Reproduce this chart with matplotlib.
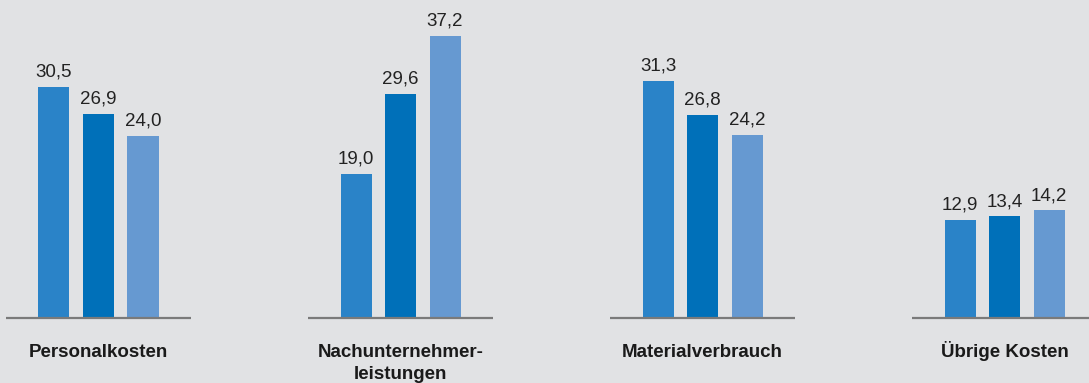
import matplotlib
matplotlib.use("Agg")
import matplotlib.pyplot as plt
import numpy as np

categories = ["Personalkosten", "Nachunternehmer-\nleistungen", "Materialverbrauch", "Übrige Kosten"]
series_a = [30.5, 19.0, 31.3, 12.9]
series_b = [26.9, 29.6, 26.8, 13.4]
series_c = [24.0, 37.2, 24.2, 14.2]
colors = ["#2a83c8", "#0070b9", "#6699d1"]
bg = "#e1e2e4"

fig = plt.figure(figsize=(10.89, 3.83), dpi=100, facecolor=bg)
ax = fig.add_axes([0, 0, 1, 1], facecolor=bg)

group_px = 302.0
x0_px = 98.5
bar_w = 31 / group_px
step = 44.5 / group_px
half_base = 92.5 / group_px
px_per_unit = 7.575
base_px = 65

x = np.arange(len(categories))
for k, (vals, col) in enumerate(zip([series_a, series_b, series_c], colors)):
    xs = x + (k - 1) * step
    ax.bar(xs, vals, width=bar_w, color=col, zorder=2)
    for xi, v in zip(xs, vals):
        ax.annotate(f"{v:.1f}".replace(".", ","), (xi, v), xytext=(0, 7.5),
                    textcoords="offset points", ha="center", va="baseline",
                    fontsize=13.5, color="#222222", family="Liberation Sans")

for xi in x:
    ax.plot([xi - half_base, xi + half_base], [0, 0], color="#7a7a7a", lw=1.6, zorder=3,
            solid_capstyle="butt")

for xi, lab in zip(x, categories):
    for j, line in enumerate(lab.split("\n")):
        ax.annotate(line, (xi, 0), xytext=(0, -28 - j * 16), textcoords="offset points",
                    ha="center", va="baseline", fontsize=13.5, fontweight="bold",
                    color="#1a1a1a", family="Liberation Sans")

ax.set_xlim(-x0_px / group_px, (1089 - x0_px) / group_px)
ax.set_ylim(-base_px / px_per_unit, (383 - base_px) / px_per_unit)
ax.axis("off")

fig.savefig("out.png", dpi=100, facecolor=bg)
